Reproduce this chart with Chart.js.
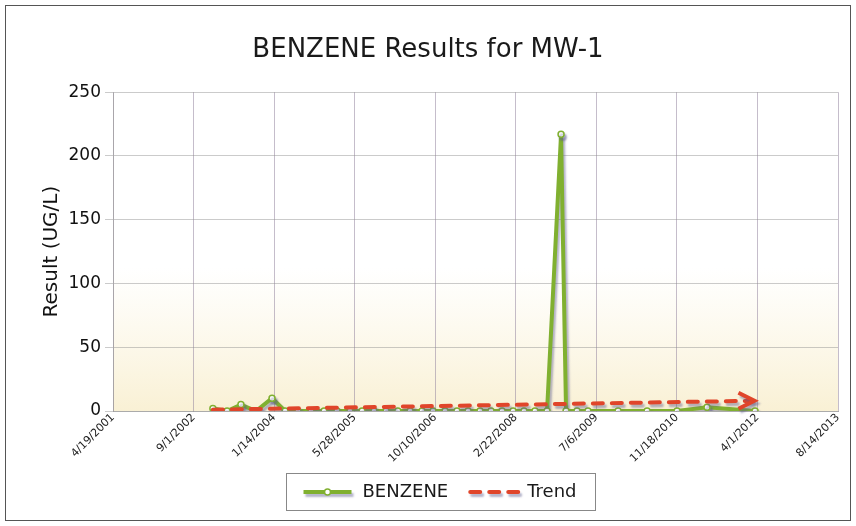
<!DOCTYPE html>
<html>
<head>
<meta charset="utf-8">
<script src="https://cdn.jsdelivr.net/npm/chart.js@4.4.1/dist/chart.umd.min.js"></script>
<style>
  html, body { margin: 0; padding: 0; background: #fff; }
  #wrap { width: 856px; height: 526px; position: relative; }
</style>
</head>
<body>
<div id="wrap"><canvas id="chart"></canvas></div>
<script>
// Sample dates (YYYY-MM-DD) and benzene results (UG/L)
const sampleDates = [
    "2002-12-30", "2003-03-28", "2003-06-22", "2003-09-24", "2004-01-01",
    "2004-03-22", "2004-06-10", "2004-08-30", "2004-11-19", "2005-02-07",
    "2005-04-29", "2005-07-13", "2005-09-25", "2005-12-09", "2006-02-20",
    "2006-05-07", "2006-07-20", "2006-09-26", "2006-12-10", "2007-02-22",
    "2007-05-02", "2007-07-15", "2007-09-21", "2007-11-29", "2008-02-05",
    "2008-04-13", "2008-06-20", "2008-09-03", "2008-11-29", "2008-12-30",
    "2009-03-08", "2009-05-15", "2009-11-18", "2010-05-17", "2010-11-19",
    "2011-05-24", "2012-03-17"
];
const benzeneValues = [
    2, 0, 5, 0, 10,
    0, 0, 0, 0, 0,
    0, 0, 0, 0, 0,
    0, 0, 0, 0, 0,
    0, 0, 0, 0, 0,
    0, 0, 0, 217, 0,
    0, 0, 0, 0, 0,
    3, 0
];

// Trend line end points
const trendDates = ["2002-12-30", "2012-03-01"];
const trendValues = [1, 8];

// X axis tick dates (every 500 days)
const tickDates = [
    "2001-04-19", "2002-09-01", "2004-01-14", "2005-05-28", "2006-10-10",
    "2008-02-22", "2009-07-06", "2010-11-18", "2012-04-01", "2013-08-14"
];

const GREEN = "#80b030";
const RED = "#e0452a";
const FONT = "'DejaVu Sans', 'Liberation Sans', Arial, sans-serif";
const SHADOW = "rgba(90,90,140,0.45)";

function toDay(s) {
    const p = s.split("-").map(Number);
    return Date.UTC(p[0], p[1] - 1, p[2]) / 86400000;
}

function formatDay(v) {
    const d = new Date(v * 86400000);
    return (d.getUTCMonth() + 1) + "/" + d.getUTCDate() + "/" + d.getUTCFullYear();
}

function setShadow(ctx) {
    ctx.shadowColor = SHADOW;
    ctx.shadowOffsetX = 2;
    ctx.shadowOffsetY = 3;
    ctx.shadowBlur = 2;
}

// white page, outer border and yellowish fade in the plot area
const backgroundPlugin = {
    id: "background",
    afterLayout(chart) {
        // legend sits a little right of centre in the original
        chart.legend.left += 12;
        chart.legend.right += 12;
    },
    beforeDraw(chart) {
        const ctx = chart.ctx;
        const a = chart.chartArea;
        ctx.save();
        ctx.fillStyle = "#fff";
        ctx.fillRect(0, 0, chart.width, chart.height);
        const g = ctx.createLinearGradient(0, a.top + a.height * 0.55, 0, a.bottom);
        g.addColorStop(0, "rgba(250,242,215,0)");
        g.addColorStop(1, "rgba(248,238,205,0.85)");
        ctx.fillStyle = g;
        ctx.fillRect(a.left, a.top + a.height * 0.55, a.width, a.height * 0.45);
        ctx.strokeStyle = "#555";
        ctx.lineWidth = 1;
        ctx.strokeRect(5.5, 5.5, chart.width - 11, chart.height - 11);
        ctx.restore();
    }
};

// soft drop shadow under the lines
const shadowPlugin = {
    id: "shadow",
    beforeDatasetDraw(chart) {
        chart.ctx.save();
        setShadow(chart.ctx);
    },
    afterDatasetDraw(chart) {
        chart.ctx.restore();
    }
};

function drawChevron(ctx, x, y) {
    ctx.beginPath();
    ctx.moveTo(x - 14, y - 8);
    ctx.lineTo(x + 2, y);
    ctx.lineTo(x - 14, y + 8);
    ctx.stroke();
}

// arrow head at the end of the trend line + legend frame and samples
const extrasPlugin = {
    id: "extras",
    afterDatasetsDraw(chart) {
        const pts = chart.getDatasetMeta(1).data;
        const end = pts[pts.length - 1];
        const ctx = chart.ctx;
        ctx.save();
        setShadow(ctx);
        ctx.strokeStyle = RED;
        ctx.lineWidth = 4;
        drawChevron(ctx, end.x, end.y);
        ctx.restore();
    },
    afterDraw(chart) {
        const boxes = chart.legend.legendHitBoxes;
        if (!boxes || !boxes.length) return;
        const ctx = chart.ctx;
        let l = Infinity, r = -Infinity, cy = 0;
        boxes.forEach(b => {
            l = Math.min(l, b.left);
            r = Math.max(r, b.left + b.width);
            cy = b.top + b.height / 2;
        });
        ctx.save();
        ctx.strokeStyle = "#888";
        ctx.lineWidth = 1;
        ctx.strokeRect(Math.round(l - 18) + 0.5, Math.round(cy - 19) + 0.5, Math.round(r - l + 36), 37);

        // BENZENE sample: thick green line with a small marker
        const b0 = boxes[0];
        ctx.save();
        setShadow(ctx);
        ctx.strokeStyle = GREEN;
        ctx.lineWidth = 4;
        ctx.beginPath();
        ctx.moveTo(b0.left, cy);
        ctx.lineTo(b0.left + 48, cy);
        ctx.stroke();
        ctx.restore();
        ctx.beginPath();
        ctx.arc(b0.left + 24, cy, 3, 0, Math.PI * 2);
        ctx.fillStyle = "#fff";
        ctx.fill();
        ctx.strokeStyle = GREEN;
        ctx.lineWidth = 1.5;
        ctx.stroke();

        // Trend sample: dashed red line
        const b1 = boxes[1];
        setShadow(ctx);
        ctx.strokeStyle = RED;
        ctx.lineWidth = 4;
        ctx.lineCap = "round";
        ctx.setLineDash([10, 9]);
        ctx.beginPath();
        ctx.moveTo(b1.left + 2, cy);
        ctx.lineTo(b1.left + 50, cy);
        ctx.stroke();
        ctx.restore();
    }
};

const benzenePoints = sampleDates.map((d, i) => ({ x: toDay(d), y: benzeneValues[i] }));
const trendPoints = trendDates.map((d, i) => ({ x: toDay(d), y: trendValues[i] }));

const ctx = document.getElementById("chart").getContext("2d");
new Chart(ctx, {
    type: "line",
    data: {
        datasets: [{
            label: "BENZENE",
            data: benzenePoints,
            order: 1,
            borderColor: GREEN,
            backgroundColor: GREEN,
            borderWidth: 4,
            pointRadius: 3,
            pointBorderWidth: 1.5,
            pointBackgroundColor: "#fff",
            pointBorderColor: GREEN,
            tension: 0
        }, {
            label: "Trend",
            data: trendPoints,
            order: 0,
            borderColor: RED,
            backgroundColor: RED,
            borderWidth: 4,
            borderDash: [10, 9],
            borderCapStyle: "round",
            pointRadius: 0,
            tension: 0
        }]
    },
    options: {
        responsive: true,
        maintainAspectRatio: false,
        animation: false,
        layout: { padding: { top: 0, left: 18, right: 18, bottom: 15 } },
        plugins: {
            title: {
                display: true,
                text: "BENZENE Results for MW-1",
                color: "#1a1a1a",
                font: { family: FONT, size: 26, weight: "normal" },
                padding: { top: 35, bottom: 26 }
            },
            legend: {
                display: true,
                position: "bottom",
                labels: {
                    usePointStyle: true,
                    pointStyle: "line",
                    pointStyleWidth: 50,
                    boxHeight: 4,
                    padding: 20,
                    color: "#1a1a1a",
                    font: { family: FONT, size: 18 },
                    generateLabels: (chart) => chart.data.datasets.map((ds, i) => ({
                        text: ds.label,
                        datasetIndex: i,
                        fillStyle: "rgba(0,0,0,0)",
                        strokeStyle: "rgba(0,0,0,0)",
                        lineWidth: 0,
                        fontColor: "#1a1a1a",
                        hidden: false
                    }))
                }
            },
            tooltip: { enabled: false }
        },
        scales: {
            x: {
                type: "linear",
                min: toDay(tickDates[0]),
                max: toDay(tickDates[tickDates.length - 1]),
                afterBuildTicks: (scale) => {
                    scale.ticks = tickDates.map(d => ({ value: toDay(d) }));
                },
                afterFit: (scale) => { scale.height = 52; },
                ticks: {
                    autoSkip: false,
                    minRotation: 45,
                    maxRotation: 45,
                    color: "#222",
                    font: { family: FONT, size: 11 },
                    padding: 0,
                    callback: (v) => formatDay(v)
                },
                grid: { color: "rgba(150,135,160,0.55)", tickLength: 0 },
                border: { color: "rgba(150,150,150,0.6)" }
            },
            y: {
                min: 0,
                max: 250,
                afterFit: (scale) => { scale.width = 95; },
                ticks: {
                    stepSize: 50,
                    color: "#111",
                    font: { family: FONT, size: 17 },
                    padding: 4
                },
                title: {
                    display: true,
                    text: "Result (UG/L)",
                    color: "#111",
                    font: { family: FONT, size: 20 },
                    padding: { top: 22, bottom: 6 }
                },
                grid: { color: "rgba(140,140,140,0.45)", tickLength: 8 },
                border: { color: "rgba(150,150,150,0.6)" }
            }
        }
    },
    plugins: [backgroundPlugin, shadowPlugin, extrasPlugin]
});
</script>
</body>
</html>
